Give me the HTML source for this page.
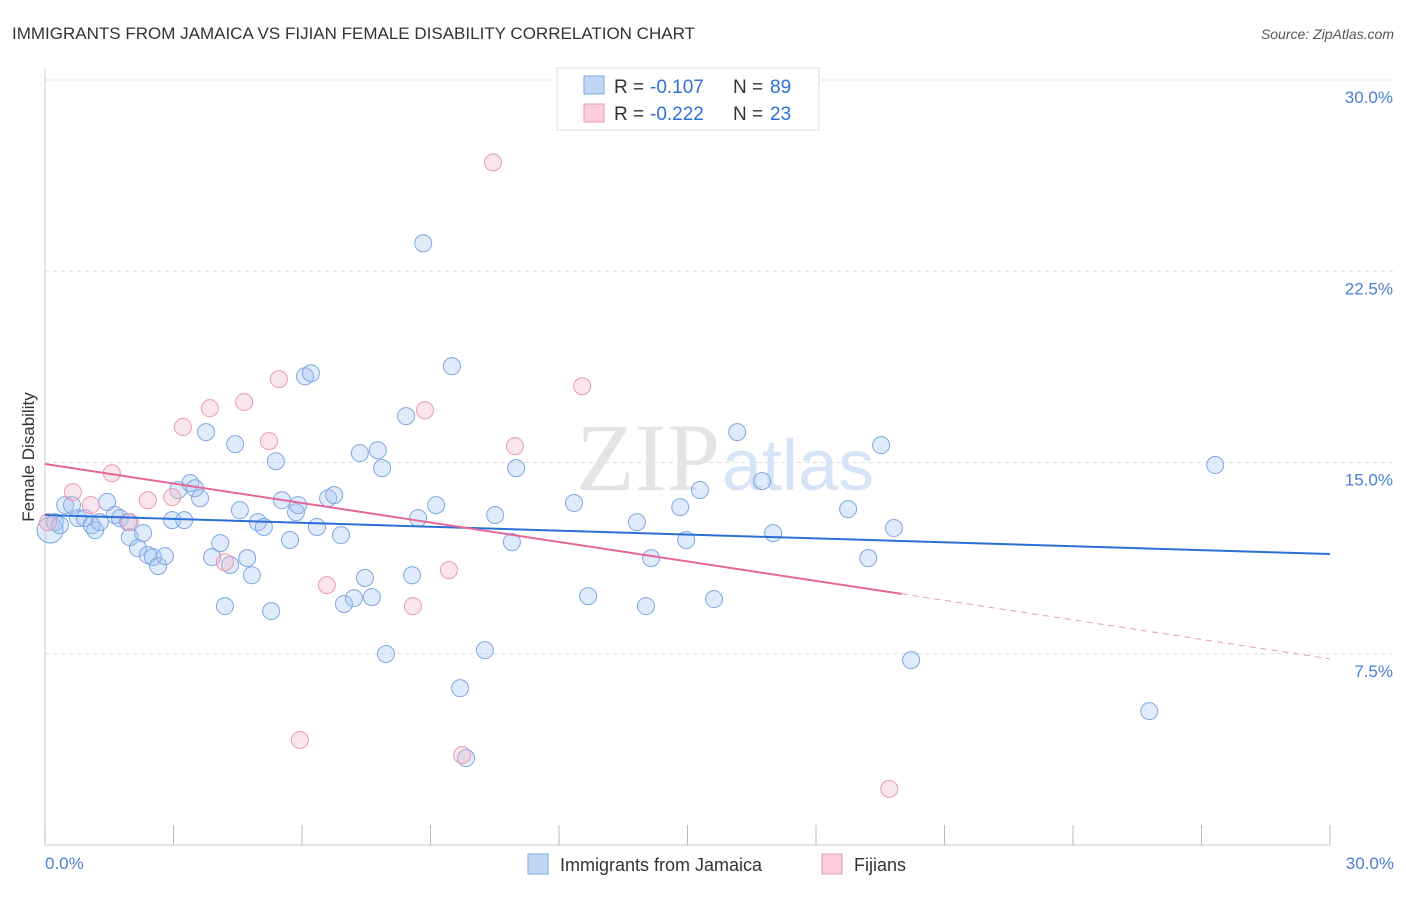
<!DOCTYPE html>
<html><head><meta charset="utf-8"><style>
body{margin:0;background:#fff;font-family:"Liberation Sans",sans-serif}
</style></head><body>
<svg width="1406" height="892" xmlns="http://www.w3.org/2000/svg" font-family="Liberation Sans, sans-serif">
<text x="12" y="39" font-size="17" fill="#333">IMMIGRANTS FROM JAMAICA VS FIJIAN FEMALE DISABILITY CORRELATION CHART</text>
<text x="1394" y="39" font-size="14" fill="#555" text-anchor="end" font-style="italic">Source: ZipAtlas.com</text>
<g id="grid"></g>
<text x="720" y="490" font-size="96" fill="#e4e4e4" font-family="Liberation Serif, serif" text-anchor="end">ZIP</text>
<text x="722" y="490" font-size="72" fill="#d6e4f5">atlas</text>
<line x1="45" y1="68" x2="45" y2="845" stroke="#ccc"/>
<line x1="45" y1="845" x2="1330" y2="845" stroke="#ccc"/>
<g id="ticks"></g>
<g id="ylabels"></g>
<text x="45" y="869" font-size="17" fill="#4a7fd4">0.0%</text>
<text x="1394" y="869" font-size="17" fill="#4a7fd4" text-anchor="end">30.0%</text>
<text transform="translate(34,457) rotate(-90)" font-size="17" fill="#333" text-anchor="middle">Female Disability</text>
<g id="pts"></g>
<g id="trends"></g>
<g font-size="19">
<rect x="557" y="68" width="262" height="62" fill="#fff" stroke="#ddd"/>
<rect x="584" y="76" width="20" height="18" fill="#c0d6f5" stroke="#7fa8e0"/>
<rect x="584" y="104" width="20" height="18" fill="#f9cdd9" stroke="#e99ab4"/>
<text x="614" y="93" fill="#333">R =</text><text x="650" y="93" fill="#2f6fd6">-0.107</text>
<text x="733" y="93" fill="#333">N =</text><text x="770" y="93" fill="#2f6fd6">89</text>
<text x="614" y="120" fill="#333">R =</text><text x="650" y="120" fill="#2f6fd6">-0.222</text>
<text x="733" y="120" fill="#333">N =</text><text x="770" y="120" fill="#2f6fd6">23</text>
</g>
<g>
<rect x="528" y="854" width="20" height="20" fill="#c0d6f5" stroke="#7fa8e0"/>
<text x="560" y="871" font-size="18" fill="#333">Immigrants from Jamaica</text>
<rect x="822" y="854" width="20" height="20" fill="#f9cdd9" stroke="#e99ab4"/>
<text x="854" y="871" font-size="18" fill="#333">Fijians</text>
</g>
</svg>
<script>
const yTicks=[7.5,15,22.5,30];
const yTickLabels=["7.5%","15.0%","22.5%","30.0%"];
const xTicks=[0,3,6,9,12,15,18,21,24,27,30];
const blueX=[0.12,0.23,0.35,0.47,0.63,0.77,0.93,1.09,1.17,1.28,1.45,1.63,1.75,1.94,1.98,2.17,2.29,2.40,2.52,2.64,2.80,2.97,3.11,3.25,3.39,3.50,3.62,3.76,3.90,4.09,4.20,4.32,4.44,4.55,4.72,4.83,4.97,5.11,5.28,5.39,5.53,5.72,5.86,5.91,6.07,6.21,6.35,6.61,6.75,6.91,6.98,7.21,7.35,7.47,7.63,7.77,7.87,7.96,8.43,8.57,8.71,8.83,9.13,9.50,9.69,9.83,10.27,10.51,10.90,11.00,12.35,12.68,13.82,14.03,14.15,14.83,14.97,15.29,15.62,16.16,16.74,17.00,18.75,19.22,19.52,19.82,20.22,25.78,27.32];
const blueY=[12.35,12.66,12.54,13.33,13.33,12.82,12.82,12.54,12.35,12.66,13.45,12.94,12.82,12.66,12.07,11.64,12.23,11.37,11.29,10.94,11.33,12.74,13.92,12.74,14.19,13.99,13.60,16.19,11.29,11.84,9.37,10.98,15.72,13.13,11.25,10.58,12.66,12.47,9.17,15.05,13.52,11.96,13.05,13.33,18.38,18.50,12.47,13.60,13.72,12.15,9.45,9.68,15.37,10.47,9.72,15.48,14.78,7.49,16.82,10.58,12.82,23.60,13.33,18.78,6.15,3.41,7.64,12.94,11.88,14.78,13.41,9.76,12.66,9.37,11.25,13.25,11.96,13.92,9.64,16.19,14.27,12.23,13.17,11.25,15.68,12.43,7.25,5.25,14.90];
const pinkX=[0.07,0.65,1.07,1.56,1.98,2.40,2.97,3.22,3.85,4.20,4.65,5.23,5.46,5.95,6.58,8.59,8.87,9.43,9.74,10.46,10.97,12.54,19.71];
const pinkY=[12.66,13.84,13.33,14.58,12.66,13.52,13.64,16.39,17.13,11.09,17.37,15.84,18.27,4.12,10.19,9.37,17.05,10.78,3.53,26.77,15.64,17.99,2.20];
const blueTrend=[12.94,11.41];
const pinkTrend=[14.94,7.30];
const pinkSolidEnd=20;
const NS="http://www.w3.org/2000/svg";
const X=v=>45+v*(1285/30), Y=v=>845-v*(765/30);
function mk(tag,attrs,parent){const e=document.createElementNS(NS,tag);for(const k in attrs)e.setAttribute(k,attrs[k]);document.getElementById(parent).appendChild(e);return e;}
yTicks.forEach((t,i)=>{
 const g=mk('line',{x1:45,x2:1394,y1:Y(t),y2:Y(t),stroke:'#ddd','stroke-dasharray':'4,4'},'grid');
 
 
 const l=mk('text',{x:1393,y:Y(t)+23,'font-size':17,fill:'#4a7fd4','text-anchor':'end'},'ylabels');
 l.textContent=yTickLabels[i];
 
 
});
xTicks.forEach(t=>{
 const e=mk('line',{x1:X(t),x2:X(t),y1:825,y2:845,stroke:'#bbb'},'ticks');
 
 
});
blueX.forEach((x,i)=>{
 const c=mk('circle',{cx:X(x),cy:Y(blueY[i]),r:i===0?13:8.5,fill:'rgba(164,194,244,0.35)',stroke:'#7fa8e0','stroke-width':1},'pts');
 
 
});
pinkX.forEach((x,i)=>{
 const c=mk('circle',{cx:X(x),cy:Y(pinkY[i]),r:8.5,fill:'rgba(244,180,200,0.35)',stroke:'#e99ab4','stroke-width':1},'pts');
 
 
});
const b=mk('line',{x1:X(0),y1:Y(blueTrend[0]),x2:X(30),y2:Y(blueTrend[1]),stroke:'#2a6fd6','stroke-width':2},'trends');


const pm=pinkTrend[0]+(pinkTrend[1]-pinkTrend[0])*pinkSolidEnd/30;
const p1=mk('line',{x1:X(0),y1:Y(pinkTrend[0]),x2:X(pinkSolidEnd),y2:Y(pm),stroke:'#e5679a','stroke-width':2},'trends');


const p2=mk('line',{x1:X(pinkSolidEnd),y1:Y(pm),x2:X(30),y2:Y(pinkTrend[1]),stroke:'#e99ab4','stroke-width':1,'stroke-dasharray':'6,5'},'trends');


</script>
</body></html>
